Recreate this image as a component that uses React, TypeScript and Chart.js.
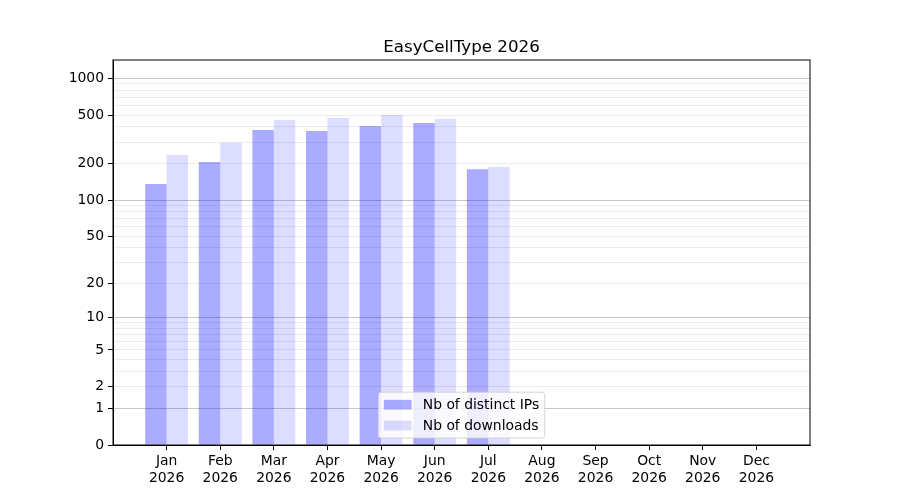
import React, { useEffect, useRef } from 'react';
import { Chart, registerables } from 'chart.js';

Chart.register(...registerables);

const chartTitle = 'EasyCellType 2026';
const months = ['Jan', 'Feb', 'Mar', 'Apr', 'May', 'Jun', 'Jul', 'Aug', 'Sep', 'Oct', 'Nov', 'Dec'];
const yearLabel = '2026';
const seriesLabels = ['Nb of distinct IPs', 'Nb of downloads'];
const distinctIPs = [136, 206, 377, 370, 407, 431, 180, 0, 0, 0, 0, 0];
const downloads = [235, 297, 456, 473, 501, 464, 187, 0, 0, 0, 0, 0];
const labelledTicks = [0, 1, 2, 5, 10, 20, 50, 100, 200, 500, 1000];
const majorGrid = [1, 10, 100, 1000];
const minorGrid = [3, 4, 6, 7, 8, 9, 30, 40, 60, 70, 80, 90, 300, 400, 600, 700, 800, 900];
const yTopValue = 1414;

const FONT = '"DejaVu Sans", sans-serif';
const FS = 13.9;

const tf = (v: number) => Math.log10(v + 1);
const inv = (t: number) => Math.round(Math.pow(10, t) - 1);

const allYTicks = Array.from(new Set([...labelledTicks, ...majorGrid, ...minorGrid])).sort((a, b) => a - b);

const overlayPlugin = {
  id: 'overlay',
  afterDraw(chart: any) {
    const { ctx, chartArea } = chart;
    ctx.save();
    // spines
    ctx.strokeStyle = '#000';
    ctx.lineWidth = 1;
    ctx.strokeRect(chartArea.left, chartArea.top, chartArea.right - chartArea.left, chartArea.bottom - chartArea.top);
    // title
    ctx.fillStyle = '#000';
    ctx.font = `16.7px ${FONT}`;
    ctx.textAlign = 'center';
    ctx.textBaseline = 'alphabetic';
    ctx.fillText(chartTitle, (chartArea.left + chartArea.right) / 2, chartArea.top - 8.3);
    // legend
    ctx.font = `${FS}px ${FONT}`;
    const pad = 0.4 * FS;
    const handleLen = 2 * FS;
    const handleH = 0.7 * FS;
    const textPad = 0.8 * FS;
    const spacing = 0.5 * FS;
    const datasets = chart.data.datasets;
    const textW = Math.max(...datasets.map((d: any) => ctx.measureText(d.label).width));
    const w = 2 * pad + handleLen + textPad + textW;
    const h = 2 * pad + datasets.length * FS + (datasets.length - 1) * spacing;
    const cx = (chartArea.left + chartArea.right) / 2;
    const x0 = cx - w / 2;
    const y0 = chartArea.bottom - 0.5 * FS - h;
    const r = 0.2 * FS;
    ctx.beginPath();
    ctx.moveTo(x0 + r, y0);
    ctx.lineTo(x0 + w - r, y0);
    ctx.quadraticCurveTo(x0 + w, y0, x0 + w, y0 + r);
    ctx.lineTo(x0 + w, y0 + h - r);
    ctx.quadraticCurveTo(x0 + w, y0 + h, x0 + w - r, y0 + h);
    ctx.lineTo(x0 + r, y0 + h);
    ctx.quadraticCurveTo(x0, y0 + h, x0, y0 + h - r);
    ctx.lineTo(x0, y0 + r);
    ctx.quadraticCurveTo(x0, y0, x0 + r, y0);
    ctx.closePath();
    ctx.fillStyle = 'rgba(255,255,255,0.8)';
    ctx.fill();
    ctx.strokeStyle = 'rgba(204,204,204,0.8)';
    ctx.stroke();
    datasets.forEach((d: any, i: number) => {
      const top = y0 + pad + i * (FS + spacing);
      const cy = top + FS / 2;
      ctx.fillStyle = d.backgroundColor;
      ctx.fillRect(x0 + pad, cy - handleH / 2, handleLen, handleH);
      ctx.fillStyle = '#000';
      ctx.textAlign = 'left';
      ctx.textBaseline = 'middle';
      ctx.fillText(d.label, x0 + pad + handleLen + textPad, cy + 0.5);
    });
    ctx.restore();
  },
};

export default function App() {
  const ref = useRef<HTMLCanvasElement | null>(null);

  useEffect(() => {
    if (!ref.current) return;
    Chart.defaults.font.family = FONT;
    Chart.defaults.font.size = FS;
    Chart.defaults.color = '#000';
    const chart = new Chart(ref.current, {
      type: 'bar',
      data: {
        datasets: [
          {
            label: seriesLabels[0],
            data: distinctIPs.map((v, i) => ({ x: i, y: tf(v) })),
            backgroundColor: 'rgba(0,0,255,0.33)',
            borderWidth: 0,
            categoryPercentage: 0.8,
            barPercentage: 1.0,
          },
          {
            label: seriesLabels[1],
            data: downloads.map((v, i) => ({ x: i, y: tf(v) })),
            backgroundColor: 'rgba(0,0,255,0.134)',
            borderWidth: 0,
            categoryPercentage: 0.8,
            barPercentage: 1.0,
          },
        ],
      },
      options: {
        animation: false,
        responsive: false,
        devicePixelRatio: 1,
        layout: { padding: { left: 0, right: 90, top: 60, bottom: 0 } },
        plugins: {
          legend: { display: false },
          title: { display: false },
          tooltip: { enabled: false },
        },
        scales: {
          x: {
            type: 'linear',
            min: -1,
            max: 12,
            offset: false,
            afterBuildTicks: (scale: any) => {
              scale.ticks = months.map((_, i) => ({ value: i }));
            },
            afterFit: (scale: any) => {
              scale.height = 55;
            },
            ticks: {
              autoSkip: false,
              maxRotation: 0,
              padding: 3,
              color: '#000',
              font: { size: FS, lineHeight: 1.2 },
              callback: (value: any) => [months[Math.round(value)] ?? '', yearLabel],
            },
            grid: {
              offset: false,
              drawOnChartArea: false,
              drawTicks: true,
              tickLength: 5,
              color: '#000',
              tickColor: '#000',
            },
            border: { display: true, color: '#000', width: 1 },
          },
          y: {
            type: 'linear',
            min: 0,
            max: tf(yTopValue),
            afterBuildTicks: (scale: any) => {
              scale.ticks = allYTicks.map((v) => ({ value: tf(v) }));
            },
            afterFit: (scale: any) => {
              scale.width = 113;
            },
            ticks: {
              autoSkip: false,
              padding: 4,
              color: '#000',
              font: { size: FS },
              callback: (value: any) => {
                const raw = inv(value);
                return labelledTicks.includes(raw) ? String(raw) : '';
              },
            },
            grid: {
              drawTicks: true,
              tickLength: 5,
              lineWidth: 1,
              color: (c: any) => {
                const raw = inv(c.tick ? c.tick.value : 0);
                if (raw === 0) return 'rgba(0,0,0,0)';
                if (majorGrid.includes(raw)) return '#c8c8c8';
                return '#ececec';
              },
              tickColor: (c: any) => {
                const raw = inv(c.tick ? c.tick.value : 0);
                return labelledTicks.includes(raw) ? '#000' : 'rgba(0,0,0,0)';
              },
            },
            border: { display: true, color: '#000', width: 1 },
          },
        },
      } as any,
      plugins: [overlayPlugin],
    });
    return () => chart.destroy();
  }, []);

  return (
    <div style={{ position: 'absolute', left: 0, top: 0, width: 900, height: 500, background: '#fff' }}>
      <canvas ref={ref} width={900} height={500} />
    </div>
  );
}
